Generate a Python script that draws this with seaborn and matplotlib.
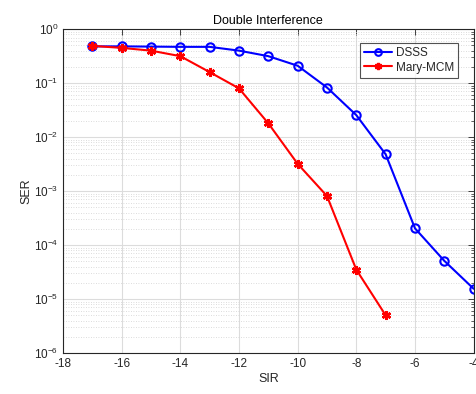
import numpy as np
import pandas as pd
import seaborn as sns
import matplotlib
matplotlib.use("Agg")
import matplotlib.pyplot as plt
from matplotlib.ticker import LogLocator, NullFormatter

# SER versus SIR for the two schemes
sir_dsss = [-17, -16, -15, -14, -13, -12, -11, -10, -9, -8, -7, -6, -5, -4]
ser_dsss = [0.48, 0.48, 0.475, 0.47, 0.47, 0.40, 0.316, 0.21, 0.083, 0.0255,
            0.0048, 2.04e-4, 5.1e-5, 1.55e-5]

sir_mcm = [-17, -16, -15, -14, -13, -12, -11, -10, -9, -8, -7]
ser_mcm = [0.49, 0.45, 0.40, 0.316, 0.16, 0.080, 0.018, 0.0032, 8.1e-4,
           3.5e-5, 5.0e-6]

x_ticks = [-18, -16, -14, -12, -10, -8, -6, -4]
y_ticks = [1e-6, 1e-5, 1e-4, 1e-3, 1e-2, 1e-1, 1e0]

sns.set_theme(style="white")
plt.rcParams['font.family'] = ['Liberation Sans', 'DejaVu Sans']
plt.rcParams['axes.unicode_minus'] = False

df_dsss = pd.DataFrame({"SIR": sir_dsss, "SER": ser_dsss})
df_mcm = pd.DataFrame({"SIR": sir_mcm, "SER": ser_mcm})

fig, ax = plt.subplots(figsize=(4.77, 3.94), dpi=100)
fig.subplots_adjust(left=0.132, right=0.993, top=0.926, bottom=0.104)

sns.lineplot(data=df_dsss, x="SIR", y="SER", ax=ax, color="#0000ff",
             marker="o", markersize=6, markerfacecolor="none",
             markeredgecolor="#0000ff", markeredgewidth=1.5, linewidth=1.5,
             label="DSSS")
sns.lineplot(data=df_mcm, x="SIR", y="SER", ax=ax, color="#ff0000",
             marker=(6, 2, 0), markersize=6.5, markeredgewidth=1.8,
             markeredgecolor="#ff0000", linewidth=1.5, label="Mary-MCM")

ax.set_yscale("log")
ax.set_xlim(-18, -4)
ax.set_ylim(1e-6, 1e0)
ax.set_xticks(x_ticks)
ax.set_yticks(y_ticks)
ax.yaxis.set_minor_locator(LogLocator(base=10, subs=np.arange(2, 10), numticks=20))
ax.yaxis.set_minor_formatter(NullFormatter())

ax.grid(True, which="major", color="#dcdcdc", linewidth=0.8, linestyle="-")
ax.grid(True, which="minor", axis="y", color="#d0d0d0", linewidth=0.6,
        linestyle=(0, (1, 2)))
ax.set_axisbelow(True)

for s in ax.spines.values():
    s.set_color("#262626")
    s.set_linewidth(0.8)
ax.tick_params(which="both", direction="in", top=True, right=True,
               colors="#262626", labelsize=8.5)
ax.tick_params(which="major", length=4, width=0.6)
ax.tick_params(which="minor", length=2, width=0.5)

ax.set_title("Double Interference", fontsize=9, color="black", pad=4)
ax.set_xlabel("SIR", fontsize=9, color="#262626", labelpad=2)
ax.set_ylabel("SER", fontsize=9, color="#262626", labelpad=1)

leg = ax.legend(loc="upper right", bbox_to_anchor=(0.968, 0.966), fontsize=8.5,
                frameon=True, fancybox=False, handlelength=2.4, markerscale=0.8,
                borderpad=0.35, labelspacing=0.25, handletextpad=0.3,
                borderaxespad=0.2)
leg.get_frame().set_edgecolor("#262626")
leg.get_frame().set_linewidth(0.8)

fig.savefig("out.png", dpi=100)
